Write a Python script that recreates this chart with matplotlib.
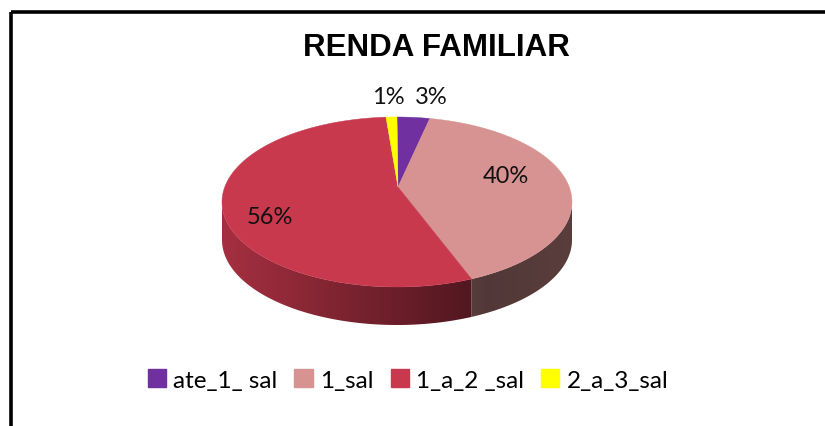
import numpy as np
import matplotlib
matplotlib.use("Agg")
import matplotlib.pyplot as plt
from matplotlib.patches import Polygon, Rectangle, Patch
from matplotlib.colors import to_rgb

# ---- data ----
title = "RENDA FAMILIAR"
categories = ["ate_1_ sal", "1_sal", "1_a_2 _sal", "2_a_3_sal"]
values = [3, 40, 56, 1]
labels = ["3%", "40%", "56%", "1%"]
colors = ["#7030a0", "#d69391", "#c8394e", "#ffff00"]

# ---- layout (pixel coordinates) ----
W, H = 825, 427
cx, cy = 397, 203          # ellipse centre
ax_x, ax_y = 398, 188      # apex (perspective centre)
rx, ry = 175, 85
depth = 38
label_pos = [(431, 97), (506, 177), (270, 218), (388, 97)]

fig = plt.figure(figsize=(W / 100, H / 100), dpi=100)
ax = fig.add_axes([0, 0, 1, 1])
ax.set_xlim(0, W)
ax.set_ylim(H, 0)
ax.axis("off")

def pt(theta_deg, dy=0.0):
    t = np.radians(theta_deg)
    return cx + rx * np.sin(t), cy - ry * np.cos(t) + dy

total = float(sum(values))
bounds = np.concatenate([[0], np.cumsum(values) / total * 360.0])

def shade(x):
    return np.interp(x, [222, 487, 572], [0.83, 0.38, 0.42])

# side walls (front half: theta in 90..270), gradient clipped to wall shape
xs = np.arange(200, 600)
for i, c in enumerate(colors):
    a0, a1 = bounds[i], bounds[i + 1]
    lo, hi = max(a0, 90), min(a1, 270)
    if hi <= lo:
        continue
    base = np.array(to_rgb(c))
    th = np.linspace(lo, hi, 200)
    top = [pt(t) for t in th]
    bot = [pt(t, depth) for t in th[::-1]]
    poly = Polygon(top + bot, closed=True, facecolor="none", edgecolor="none")
    ax.add_patch(poly)
    grad = np.clip(base[None, :] * shade(xs)[:, None], 0, 1)[None, :, :]
    im = ax.imshow(grad, extent=(xs[0], xs[-1] + 1, cy + ry + depth + 5, cy - 5),
                   aspect="auto", interpolation="bilinear", zorder=1)
    im.set_clip_path(poly)

# top faces
for i, c in enumerate(colors):
    a0, a1 = bounds[i], bounds[i + 1]
    th = np.linspace(a0, a1, max(3, int(a1 - a0) * 2))
    poly = [(ax_x, ax_y)] + [pt(t) for t in th]
    ax.add_patch(Polygon(poly, closed=True, facecolor=c, edgecolor=c,
                         linewidth=0.3, zorder=2))

ax.set_xlim(0, W)
ax.set_ylim(H, 0)

# data labels
for (x, y), lab in zip(label_pos, labels):
    ax.text(x, y, lab, ha="center", va="center", fontsize=17,
            family="Lato", color="#111111", zorder=3)

# title
ax.text(436, 48, title, ha="center", va="center", fontsize=22.5,
        family="Liberation Sans", fontweight="bold", color="black")

# frame
ax.add_patch(Rectangle((11, 13), 900, 500, fill=False, edgecolor="black",
                       linewidth=2.6))

# legend
handles = [Patch(facecolor=c, edgecolor=c) for c in colors]
leg = ax.legend(handles, categories, loc="center", bbox_to_anchor=(408 / W, 1 - 381 / H),
                bbox_transform=fig.transFigure, ncol=4, frameon=False,
                handlelength=0.75, handleheight=0.75, handletextpad=0.3,
                columnspacing=0.7, prop={"family": "Lato", "size": 17.5})

fig.savefig("out.png", dpi=100)
